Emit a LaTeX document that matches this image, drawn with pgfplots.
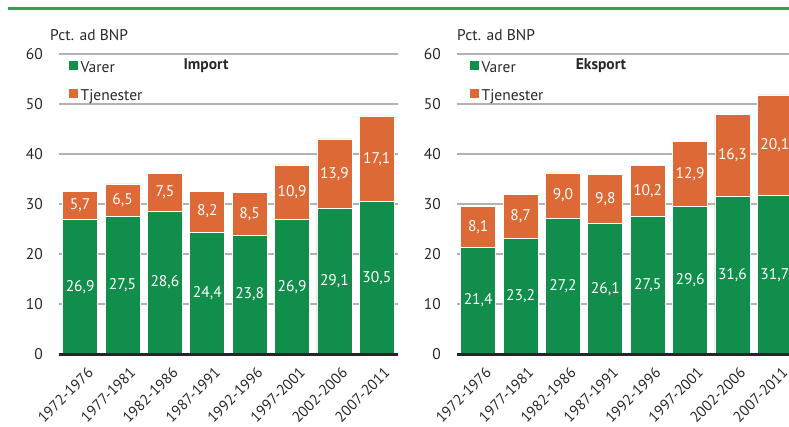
\documentclass[border=0pt]{standalone}
\usepackage{pgfplots}
\pgfplotsset{compat=1.18}
\usepackage{pgfplotstable}
\usepackage{fontspec}
\setmainfont{PT Sans}
\definecolor{varer}{RGB}{18,142,76}
\definecolor{tjen}{RGB}{221,106,54}
\definecolor{gridc}{RGB}{178,178,178}
\definecolor{topgreen}{RGB}{60,154,80}
\definecolor{txt}{RGB}{40,40,40}

\pgfplotstableread{
x varer tjen
0 26.9 5.7
1 27.5 6.5
2 28.6 7.5
3 24.4 8.2
4 23.8 8.5
5 26.9 10.9
6 29.1 13.9
7 30.5 17.1
}\importdata
\pgfplotstableread{
x varer tjen
0 21.4 8.1
1 23.2 8.7
2 27.2 9.0
3 26.1 9.8
4 27.5 10.2
5 29.6 12.9
6 31.6 16.3
7 31.7 20.1
}\eksportdata

\newcommand\fs{\fontsize{15.5}{18}\selectfont}
\newcommand\fsx{\fontsize{15}{17}\selectfont}

\pgfplotsset{
  base/.style={
    scale only axis, width=339pt, height=300pt,
    xmin=-0.5, xmax=7.5, ymin=0, ymax=60,
    anchor=south west,
  },
  main/.style={
    base,
    ybar stacked, bar width=35pt,
    axis x line*=bottom, axis y line*=left,
    y axis line style={draw=none},
    x axis line style={draw=none},
    major tick length=0pt,
    ytick={0,10,...,60},
    ymajorgrids, grid style={gridc, line width=1.2pt},
    xtick={0,...,7},
    xticklabels={1972-1976,1977-1981,1982-1986,1987-1991,1992-1996,1997-2001,2002-2006,2007-2011},
    ticklabel style={font=\fs, text=txt},
    /pgf/number format/assume math mode=true,
    yticklabel style={inner sep=0pt, xshift=-16pt},
    xticklabel style={font=\fsx, rotate=45, anchor=north east, inner sep=0pt, yshift=-13pt, xshift=-4pt},
    legend cell align=left,
    legend style={draw=none, fill=none, inner sep=0pt, font=\fs, text=txt,
      row sep=13pt,
      nodes={inner xsep=2.5pt, inner ysep=0pt, text height=10pt, text depth=3pt}},
    legend image code/.code={\fill[#1, draw=none] (0pt,-1pt) rectangle (9pt,8pt);},
  },
  lab/.style={
    base,
    axis x line*=bottom, axis y line=none,
    x axis line style={line width=3pt, color=black!85, -},
    xtick=\empty, ytick=\empty,
    nodes near coords,
    point meta=explicit,
    every node near coord/.append style={anchor=center, text=white, font=\fs, inner sep=0pt},
    /pgf/number format/.cd, fixed, fixed zerofill, precision=1, use comma, assume math mode=true,
  },
}

\begin{document}
\begin{tikzpicture}[x=1pt,y=1pt]
\useasboundingbox (0,0) rectangle (789,426);
\draw[topgreen, line width=2.5pt] (8,417.5) -- (800,417.5);

% ---------- Import ----------
\begin{axis}[main, at={(59pt,72pt)},
  legend style={at={(10/339,0.977)}, anchor=north west}]
\addplot[fill=varer, draw=white, line width=0.7pt] table[x=x, y=varer] {\importdata};
\addplot[fill=tjen, draw=white, line width=0.7pt] table[x=x, y=tjen] {\importdata};
\legend{Varer, Tjenester}
\end{axis}
\begin{axis}[lab, at={(59pt,72pt)}]
\addplot[only marks, mark=*, mark size=0pt, mark options={draw=none, fill=none}]
  table[x=x, y expr=\thisrow{varer}/2, meta=varer] {\importdata};
\addplot[only marks, mark=*, mark size=0pt, mark options={draw=none, fill=none}]
  table[x=x, y expr=\thisrow{varer}+\thisrow{tjen}/2, meta=tjen] {\importdata};
\end{axis}

% ---------- Eksport ----------
\begin{axis}[main, at={(457pt,72pt)},
  legend style={at={(13/339,0.977)}, anchor=north west}]
\addplot[fill=varer, draw=white, line width=0.7pt] table[x=x, y=varer] {\eksportdata};
\addplot[fill=tjen, draw=white, line width=0.7pt] table[x=x, y=tjen] {\eksportdata};
\legend{Varer, Tjenester}
\end{axis}
\begin{axis}[lab, at={(457pt,72pt)}]
\addplot[only marks, mark=*, mark size=0pt, mark options={draw=none, fill=none}]
  table[x=x, y expr=\thisrow{varer}/2, meta=varer] {\eksportdata};
\addplot[only marks, mark=*, mark size=0pt, mark options={draw=none, fill=none}]
  table[x=x, y expr=\thisrow{varer}+\thisrow{tjen}/2, meta=tjen] {\eksportdata};
\end{axis}

\node[anchor=base west, font=\fs, text=txt, inner sep=0pt] at (50,385) {Pct. ad BNP};
\node[anchor=base west, font=\fs, text=txt, inner sep=0pt] at (457,385) {Pct. ad BNP};
\node[anchor=base, font=\fs\bfseries, text=txt, inner sep=0pt] at (206,356) {Import};
\node[anchor=base, font=\fs\bfseries, text=txt, inner sep=0pt] at (601,356) {Eksport};
\end{tikzpicture}
\end{document}
